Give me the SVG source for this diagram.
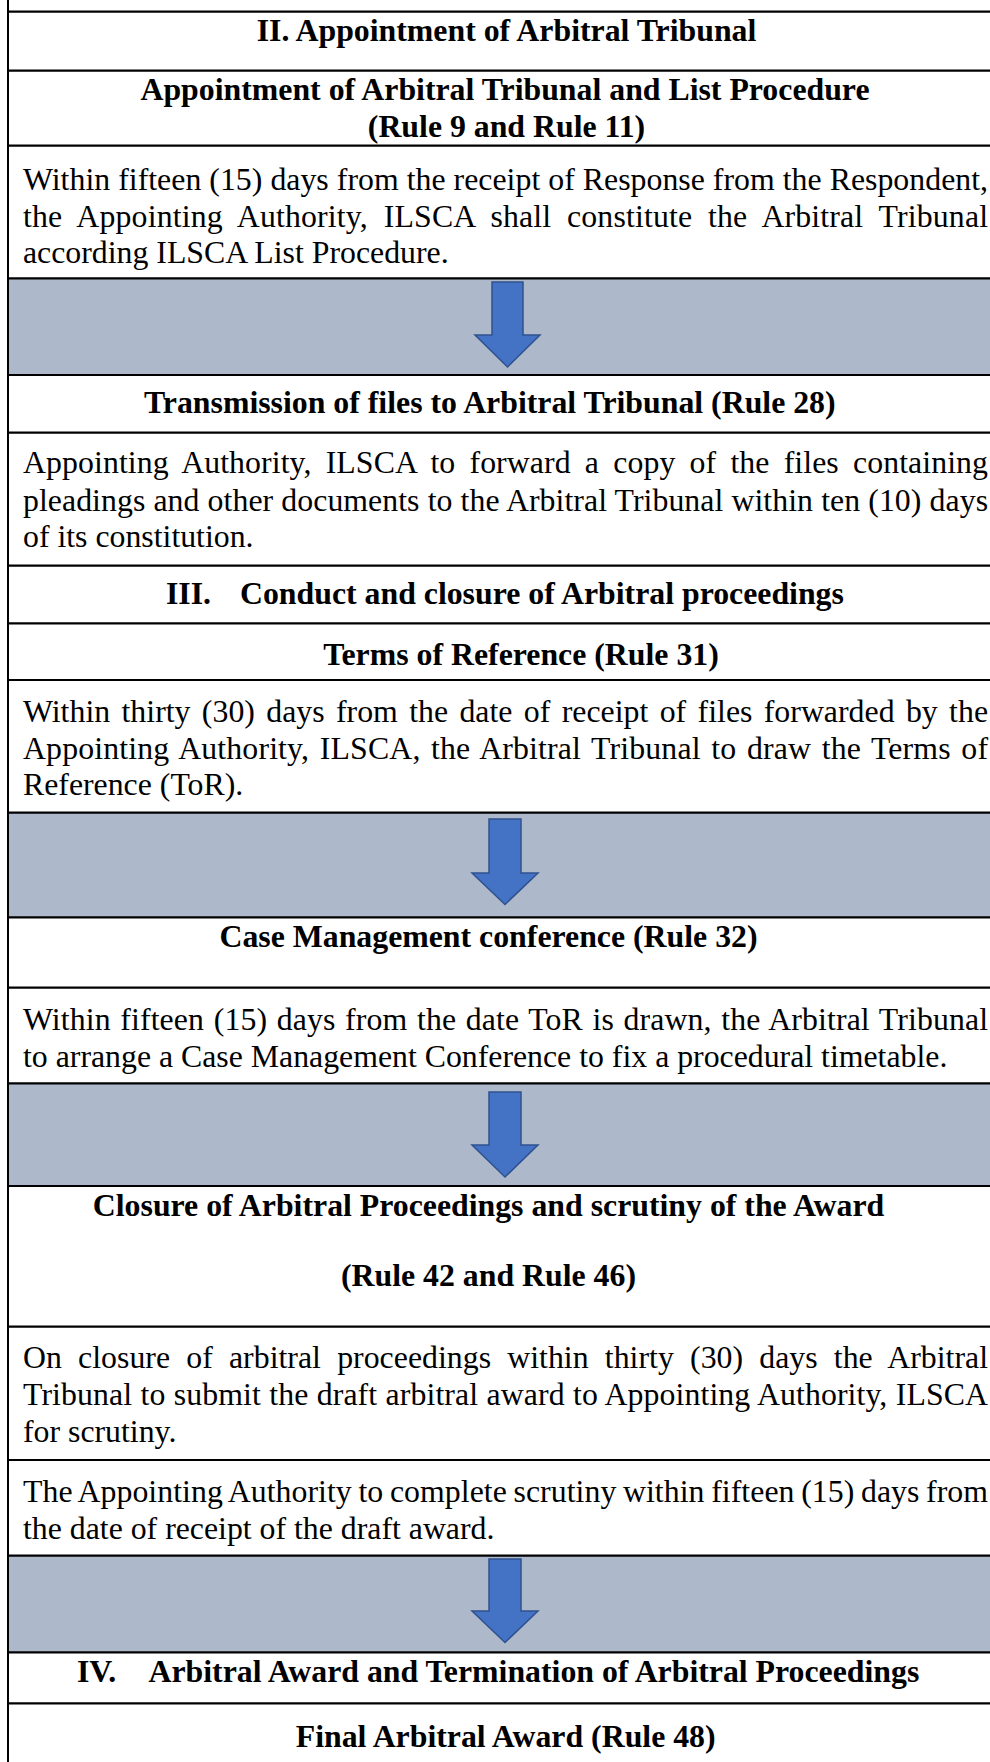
<svg xmlns="http://www.w3.org/2000/svg" width="990" height="1762" viewBox="0 0 990 1762">
<defs>
<style>
text{font-family:"Liberation Serif","Times New Roman",serif;font-size:31.8px;fill:#000}
.b{font-weight:bold}
.c{text-anchor:middle}
.band{fill:#ADB9CA}
.arrow{fill:#4472C4;stroke:#2F528F;stroke-width:1.5;stroke-linejoin:miter}
.grid line{stroke:#000;stroke-width:2.2}
</style>
</defs>
<rect x="0" y="0" width="990" height="1762" fill="#fff"/>

<g id="connectors">
<g id="arrow1"><rect class="band" x="9" y="278.3" width="981" height="96.7"/><polygon class="arrow" points="492,282 523,282 523,335 540,335 507.5,367 475,335 492,335"/></g>
<g id="arrow2"><rect class="band" x="9" y="812.7" width="981" height="104.6"/><polygon class="arrow" points="489,819 521,819 521,873 538,873 505,904.5 472,873 489,873"/></g>
<g id="arrow3"><rect class="band" x="9" y="1083.3" width="981" height="102.7"/><polygon class="arrow" points="489,1092 521,1092 521,1145 538,1145 505,1177 472,1145 489,1145"/></g>
<g id="arrow4"><rect class="band" x="9" y="1555.7" width="981" height="96.6"/><polygon class="arrow" points="489,1559 521,1559 521,1611 538,1611 505,1642.5 472,1611 489,1611"/></g>
</g>

<g class="grid" id="grid">
<line x1="8" y1="0" x2="8" y2="1762" style="stroke-width:2"/>
<line x1="7" y1="11.7" x2="990" y2="11.7"/>
<line x1="7" y1="70.7" x2="990" y2="70.7"/>
<line x1="7" y1="145.7" x2="990" y2="145.7"/>
<line x1="7" y1="278.3" x2="990" y2="278.3"/>
<line x1="7" y1="375" x2="990" y2="375"/>
<line x1="7" y1="432.7" x2="990" y2="432.7"/>
<line x1="7" y1="565.7" x2="990" y2="565.7"/>
<line x1="7" y1="623.3" x2="990" y2="623.3"/>
<line x1="7" y1="680" x2="990" y2="680"/>
<line x1="7" y1="812.7" x2="990" y2="812.7"/>
<line x1="7" y1="917.3" x2="990" y2="917.3"/>
<line x1="7" y1="987.7" x2="990" y2="987.7"/>
<line x1="7" y1="1083.3" x2="990" y2="1083.3"/>
<line x1="7" y1="1186" x2="990" y2="1186"/>
<line x1="7" y1="1326.7" x2="990" y2="1326.7"/>
<line x1="7" y1="1460" x2="990" y2="1460"/>
<line x1="7" y1="1555.7" x2="990" y2="1555.7"/>
<line x1="7" y1="1652.3" x2="990" y2="1652.3"/>
<line x1="7" y1="1703.3" x2="990" y2="1703.3"/>
</g>

<g id="section-2-title"><text class="b c" x="506.5" y="41">II. Appointment of Arbitral Tribunal</text></g>

<g id="appointment-heading">
<text class="b c" x="505" y="100">Appointment of Arbitral Tribunal and List Procedure</text>
<text class="b c" x="506.5" y="136.5">(Rule 9 and Rule 11)</text>
</g>

<g id="appointment-body">
<text x="23" y="190" textLength="965" lengthAdjust="spacing" word-spacing="0.05">Within fifteen (15) days from the receipt of Response from the Respondent,</text>
<text x="23" y="226.5" textLength="965" lengthAdjust="spacing" word-spacing="7.67">the Appointing Authority, ILSCA shall constitute the Arbitral Tribunal</text>
<text x="23" y="263">according ILSCA List Procedure.</text>
</g>

<g id="transmission-heading"><text class="b c" x="489.8" y="413">Transmission of files to Arbitral Tribunal (Rule 28)</text></g>

<g id="transmission-body">
<text x="23" y="473" textLength="965" lengthAdjust="spacing" word-spacing="6.14">Appointing Authority, ILSCA to forward a copy of the files containing</text>
<text x="23" y="510.5" textLength="965" lengthAdjust="spacing" word-spacing="0.12">pleadings and other documents to the Arbitral Tribunal within ten (10) days</text>
<text x="23" y="547">of its constitution.</text>
</g>

<g id="section-3-title">
<text class="b" x="166" y="604">III.</text>
<text class="b" x="240" y="604">Conduct and closure of Arbitral proceedings</text>
</g>

<g id="terms-heading"><text class="b c" x="521" y="665">Terms of Reference (Rule 31)</text></g>

<g id="terms-body">
<text x="23" y="722" textLength="965" lengthAdjust="spacing" word-spacing="3.37">Within thirty (30) days from the date of receipt of files forwarded by the</text>
<text x="23" y="759" textLength="965" lengthAdjust="spacing" word-spacing="2.52">Appointing Authority, ILSCA, the Arbitral Tribunal to draw the Terms of</text>
<text x="23" y="795">Reference (ToR).</text>
</g>

<g id="case-management-heading"><text class="b c" x="488.5" y="947">Case Management conference (Rule 32)</text></g>

<g id="case-management-body">
<text x="23" y="1030" textLength="965" lengthAdjust="spacing" word-spacing="1.59">Within fifteen (15) days from the date ToR is drawn, the Arbitral Tribunal</text>
<text x="23" y="1066.5">to arrange a Case Management Conference to fix a procedural timetable.</text>
</g>

<g id="closure-heading">
<text class="b c" x="488.5" y="1216">Closure of Arbitral Proceedings and scrutiny of the Award</text>
<text class="b c" x="488.5" y="1286">(Rule 42 and Rule 46)</text>
</g>

<g id="closure-body">
<text x="23" y="1368" textLength="965" lengthAdjust="spacing" word-spacing="8.18">On closure of arbitral proceedings within thirty (30) days the Arbitral</text>
<text x="23" y="1405" textLength="965" lengthAdjust="spacing" word-spacing="0.31">Tribunal to submit the draft arbitral award to Appointing Authority, ILSCA</text>
<text x="23" y="1442">for scrutiny.</text>
</g>

<g id="scrutiny-body">
<text x="23" y="1502" textLength="965" lengthAdjust="spacing" word-spacing="-1.36">The Appointing Authority to complete scrutiny within fifteen (15) days from</text>
<text x="23" y="1539">the date of receipt of the draft award.</text>
</g>

<g id="section-4-title">
<text class="b" x="77" y="1681.5">IV.</text>
<text class="b" x="148.5" y="1681.5">Arbitral Award and Termination of Arbitral Proceedings</text>
</g>

<g id="final-award-heading"><text class="b c" x="505.7" y="1747">Final Arbitral Award (Rule 48)</text></g>
</svg>
